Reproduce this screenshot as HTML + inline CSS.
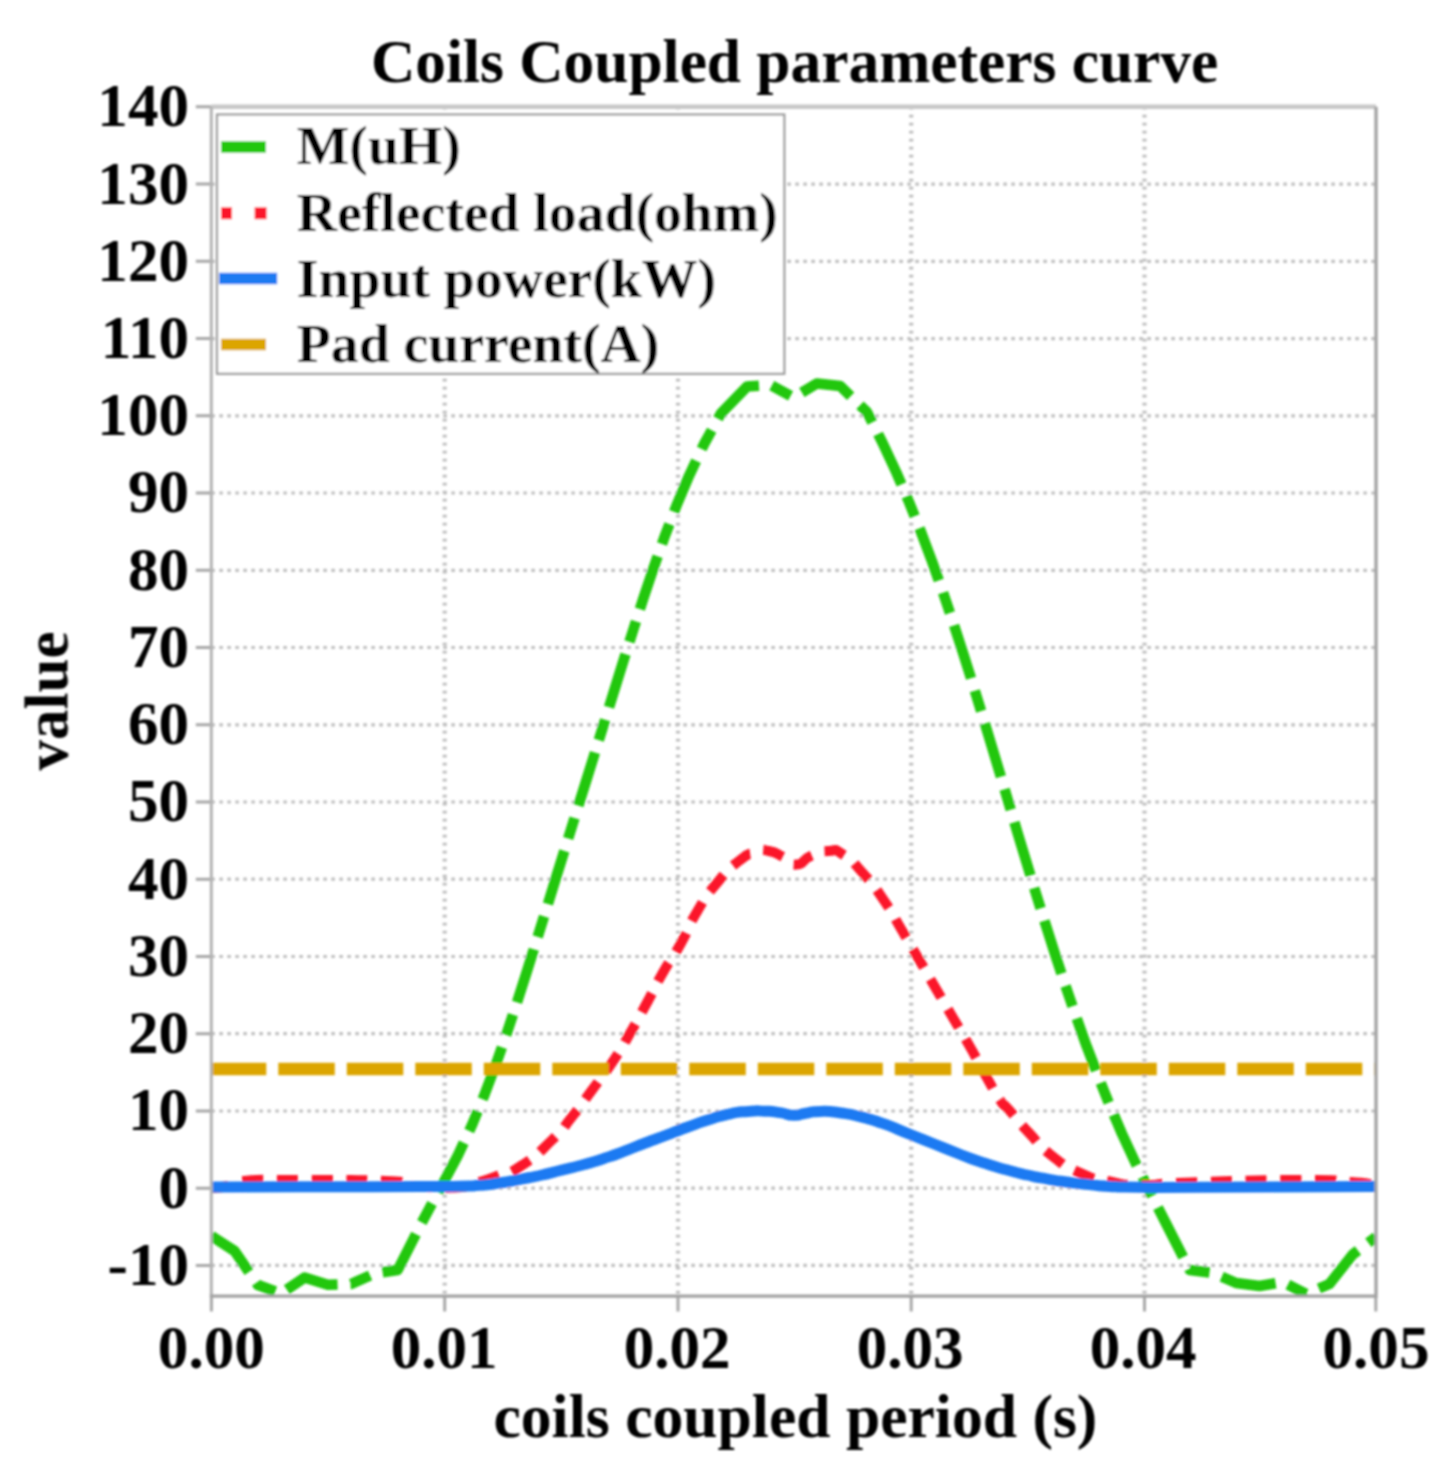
<!DOCTYPE html>
<html><head><meta charset="utf-8"><title>Coils Coupled parameters curve</title>
<style>html,body{margin:0;padding:0;background:#fff}svg{display:block}text{font-family:'Liberation Serif','Times New Roman',serif;font-weight:bold;fill:#000}</style></head><body>
<svg width="1453" height="1477" viewBox="0 0 1453 1477">
<defs><filter id="b" x="-2%" y="-2%" width="104%" height="104%"><feGaussianBlur stdDeviation="1.0"/></filter>
<clipPath id="c"><rect x="211.3" y="106.8" width="1164.7" height="1189.8"/></clipPath></defs>
<rect width="1453" height="1477" fill="#fff"/>
<g filter="url(#b)">
<path d="M444.7 106.8V1296.6M678.0 106.8V1296.6M911.2 106.8V1296.6M1144.5 106.8V1296.6" stroke="#bdbdbd" stroke-width="4.2" stroke-dasharray="2.8 5.2" fill="none"/>
<path d="M211.3 1265.4H1376.0M211.3 1188.2H1376.0M211.3 1111.0H1376.0M211.3 1033.7H1376.0M211.3 956.5H1376.0M211.3 879.2H1376.0M211.3 802.0H1376.0M211.3 724.8H1376.0M211.3 647.5H1376.0M211.3 570.3H1376.0M211.3 493.0H1376.0M211.3 415.8H1376.0M211.3 338.6H1376.0M211.3 261.3H1376.0M211.3 184.1H1376.0" stroke="#bfbfbf" stroke-width="3.2" stroke-dasharray="3.6 4.4" fill="none"/>
<path d="M195.8 1265.4H211.3M195.8 1188.2H211.3M195.8 1111.0H211.3M195.8 1033.7H211.3M195.8 956.5H211.3M195.8 879.2H211.3M195.8 802.0H211.3M195.8 724.8H211.3M195.8 647.5H211.3M195.8 570.3H211.3M195.8 493.0H211.3M195.8 415.8H211.3M195.8 338.6H211.3M195.8 261.3H211.3M195.8 184.1H211.3M195.8 106.8H211.3M211.4 1296.6V1311.6M444.7 1296.6V1311.6M678.0 1296.6V1311.6M911.2 1296.6V1311.6M1144.5 1296.6V1311.6M1375.8 1296.6V1311.6" stroke="#a8a8a8" stroke-width="3" fill="none"/>
<g clip-path="url(#c)" fill="none">
<polyline points="211.3,1236.0 234.6,1251.0 257.9,1285.0 281.2,1293.5 304.5,1277.6 327.8,1284.8 351.1,1284.0 374.4,1273.5 397.7,1270.0 421.0,1224.0 441.2,1186.7 457.7,1155.8 472.1,1124.8 484.8,1093.9 496.4,1063.0 507.2,1032.1 517.4,1001.1 527.3,970.2 536.9,939.3 546.6,908.3 556.1,877.4 565.7,846.5 575.3,815.6 585.0,784.6 594.6,753.7 604.2,722.8 613.8,691.9 623.4,660.9 633.2,630.0 643.1,599.1 653.5,568.1 664.4,537.2 676.2,506.3 689.2,475.4 703.9,444.4 720.9,413.5 747.1,386.5 770.4,385.0 793.6,397.5 816.9,383.5 840.2,386.0 867.0,412.0 882.2,442.1 896.2,472.1 909.1,502.2 921.1,532.3 932.4,562.3 943.0,592.4 953.2,622.5 962.9,652.5 972.4,682.6 981.6,712.7 990.7,742.7 999.7,772.8 1008.7,802.9 1017.6,832.9 1026.7,863.0 1035.8,893.0 1045.2,923.1 1054.7,953.2 1064.6,983.2 1074.9,1013.3 1085.6,1043.4 1097.0,1073.4 1109.0,1103.5 1121.9,1133.6 1135.8,1163.6 1150.8,1193.7 1166.3,1224.0 1189.6,1270.0 1212.9,1273.0 1236.2,1283.0 1259.5,1286.0 1282.8,1282.0 1306.1,1294.0 1329.4,1284.0 1352.7,1254.5 1376.0,1237.0" stroke="#20c70e" stroke-width="10.5" stroke-dasharray="55.6 13 21.4 13" stroke-dashoffset="2.5" stroke-linejoin="round"/>
<path d="M211.3 1188.0C216.9 1187.3 217.4 1188.3 228.0 1186.0C238.6 1183.7 219.0 1183.0 243.0 1181.0C267.0 1179.0 252.7 1180.0 300.0 1180.0C347.3 1180.0 350.0 1179.5 385.0 1181.0C420.0 1182.5 391.7 1182.5 405.0 1184.5C418.3 1186.5 406.0 1186.2 425.0 1187.0C444.0 1187.8 444.3 1188.5 462.0 1187.0C479.7 1185.5 466.0 1186.3 478.0 1182.5C490.0 1178.7 483.4 1181.3 497.9 1175.6C512.4 1169.9 503.6 1177.4 521.6 1165.5C539.6 1153.6 535.1 1156.4 552.0 1140.0C568.9 1123.6 558.8 1133.3 572.3 1116.4C585.8 1099.5 578.5 1108.5 592.6 1089.3C606.7 1070.1 602.3 1077.4 614.7 1058.8C627.1 1040.2 619.2 1052.0 629.9 1033.4C640.6 1014.8 636.1 1022.7 646.8 1003.0C657.5 983.3 650.7 994.0 662.0 974.2C673.3 954.4 669.0 964.5 680.7 943.7C692.4 922.9 685.0 931.9 697.0 911.7C709.0 891.5 702.8 900.1 716.8 883.2C730.8 866.3 725.9 871.2 739.1 860.9C752.3 850.6 746.6 855.5 756.5 852.2C766.4 848.9 759.7 849.3 768.8 851.0C777.9 852.7 774.6 852.7 783.7 857.2C792.8 861.7 787.0 865.0 796.1 864.6C805.2 864.2 800.3 860.4 811.0 855.9C821.7 851.4 817.6 851.4 828.3 851.0C839.0 850.6 831.6 847.3 843.2 854.7C854.8 862.1 849.4 858.0 863.0 873.3C876.6 888.6 870.8 881.1 884.0 900.5C897.2 919.9 890.6 911.3 902.6 931.5C914.6 951.7 908.4 941.4 920.0 961.2C931.6 981.0 925.7 971.2 937.3 991.0C948.9 1010.8 943.1 1000.9 954.7 1020.7C966.3 1040.5 961.3 1031.4 972.0 1050.4C982.7 1069.4 977.6 1061.2 986.9 1077.7C996.2 1094.2 992.7 1089.3 1000.0 1100.0C1007.3 1110.7 999.2 1098.8 1008.9 1109.8C1018.6 1120.8 1014.6 1117.6 1029.1 1133.0C1043.6 1148.4 1034.9 1142.6 1052.3 1156.1C1069.7 1169.6 1062.0 1164.9 1081.2 1173.4C1100.4 1181.9 1089.8 1177.6 1110.0 1181.5C1130.2 1185.4 1114.9 1184.7 1141.9 1185.0C1168.9 1185.3 1139.0 1184.2 1191.0 1182.5C1243.0 1180.8 1245.0 1180.2 1298.0 1180.0C1351.0 1179.8 1324.0 1180.3 1350.0 1182.0C1376.0 1183.7 1367.3 1184.0 1376.0 1185.0" stroke="#fb1629" stroke-width="10" stroke-dasharray="21 13.7"/>
<path d="M211.3 1069H1376.0" stroke="#dca500" stroke-width="12.5" stroke-dasharray="56.5 12" stroke-dashoffset="1.5"/>
<path d="M211.3 1187.0C240.9 1186.9 230.4 1186.9 300.0 1186.8C369.6 1186.7 366.7 1186.8 420.0 1186.6C473.3 1186.4 440.0 1186.6 460.0 1186.2C480.0 1185.8 466.5 1186.4 480.0 1185.3C493.5 1184.2 486.8 1184.9 500.6 1182.8C514.4 1180.7 507.5 1181.7 521.3 1179.1C535.1 1176.5 528.1 1178.1 541.9 1175.0C555.7 1171.9 548.8 1173.2 562.6 1169.8C576.4 1166.4 569.4 1168.5 583.2 1164.7C597.0 1160.9 590.1 1163.0 603.9 1158.5C617.7 1154.0 610.7 1156.4 624.5 1151.2C638.3 1146.0 631.4 1148.3 645.2 1143.0C659.0 1137.7 652.0 1140.5 665.8 1135.3C679.6 1130.1 672.7 1132.5 686.5 1127.5C700.3 1122.5 693.3 1124.7 707.1 1120.3C720.9 1115.9 714.0 1117.3 727.8 1114.3C741.6 1111.3 736.0 1112.4 748.4 1111.4C760.8 1110.4 754.5 1110.8 765.0 1111.2C775.5 1111.6 770.3 1111.2 780.0 1112.6C789.7 1114.0 785.3 1115.1 794.0 1115.3C802.7 1115.5 797.1 1114.5 806.0 1113.2C814.9 1111.9 808.8 1111.5 820.6 1111.4C832.4 1111.3 827.5 1111.1 841.3 1113.0C855.1 1114.9 848.1 1113.7 861.9 1117.2C875.7 1120.7 868.8 1118.6 882.6 1123.4C896.4 1128.2 889.4 1126.1 903.2 1131.6C917.0 1137.1 910.1 1134.4 923.9 1139.9C937.7 1145.4 930.7 1142.6 944.5 1148.1C958.3 1153.6 951.4 1151.2 965.2 1156.4C979.0 1161.6 972.0 1159.1 985.8 1163.6C999.6 1168.1 992.7 1166.0 1006.5 1169.8C1020.3 1173.6 1013.3 1171.9 1027.1 1175.0C1040.9 1178.1 1034.0 1176.7 1047.8 1179.1C1061.6 1181.5 1054.6 1180.4 1068.4 1182.2C1082.2 1184.0 1075.2 1183.2 1089.1 1184.6C1103.0 1186.0 1093.0 1185.5 1110.0 1186.4C1127.0 1187.3 1110.0 1186.9 1140.0 1187.2C1170.0 1187.5 1121.3 1187.4 1200.0 1187.2C1278.7 1187.0 1317.3 1186.7 1376.0 1186.5" stroke="#1f7af2" stroke-width="11"/>
</g>
<path d="M211.3 106.8H1376.0" stroke="#c8c8c8" stroke-width="4.6" fill="none"/>
<path d="M211.3 106.8V1296.6" stroke="#b2b2b2" stroke-width="3" fill="none"/>
<path d="M209.8 1296.1999999999998H1376.0V106.8" stroke="#a2a2a2" stroke-width="3.3" fill="none"/>
<rect x="217" y="114.5" width="567.3" height="259.3" fill="#fff" stroke="#9a9a9a" stroke-width="2.2"/>
<path d="M221 147H266" stroke="#20c70e" stroke-width="11.5"/>
<path d="M221 213.3h11M254.6 213.3h12" stroke="#fb1629" stroke-width="12"/>
<path d="M219 278.4H277.2" stroke="#1f7af2" stroke-width="11.5"/>
<path d="M221 344.5H266" stroke="#dca500" stroke-width="11.5"/>
<text x="296.8" y="164.4" font-size="55.7">M(uH)</text>
<text x="296.8" y="230.5" font-size="55.7">Reflected load(ohm)</text>
<text x="296.8" y="296.6" font-size="55.7">Input power(kW)</text>
<text x="296.8" y="362.2" font-size="55.7">Pad current(A)</text>
<text x="794.6" y="82.2" font-size="61.4" text-anchor="middle">Coils Coupled parameters curve</text>
<text x="795.4" y="1436.6" font-size="61.6" text-anchor="middle">coils coupled period (s)</text>
<text transform="translate(67.4 701) rotate(-90)" font-size="61.1" text-anchor="middle">value</text>
<text x="189" y="1284.8" font-size="61.1" text-anchor="end">-10</text>
<text x="189" y="1207.6" font-size="61.1" text-anchor="end">0</text>
<text x="189" y="1130.4" font-size="61.1" text-anchor="end">10</text>
<text x="189" y="1053.1" font-size="61.1" text-anchor="end">20</text>
<text x="189" y="975.9" font-size="61.1" text-anchor="end">30</text>
<text x="189" y="898.6" font-size="61.1" text-anchor="end">40</text>
<text x="189" y="821.4" font-size="61.1" text-anchor="end">50</text>
<text x="189" y="744.2" font-size="61.1" text-anchor="end">60</text>
<text x="189" y="666.9" font-size="61.1" text-anchor="end">70</text>
<text x="189" y="589.7" font-size="61.1" text-anchor="end">80</text>
<text x="189" y="512.4" font-size="61.1" text-anchor="end">90</text>
<text x="189" y="435.2" font-size="61.1" text-anchor="end">100</text>
<text x="189" y="358.0" font-size="61.1" text-anchor="end">110</text>
<text x="189" y="280.7" font-size="61.1" text-anchor="end">120</text>
<text x="189" y="203.5" font-size="61.1" text-anchor="end">130</text>
<text x="189" y="126.2" font-size="61.1" text-anchor="end">140</text>
<text x="211.3" y="1367.5" font-size="61.1" text-anchor="middle">0.00</text>
<text x="444.2" y="1367.5" font-size="61.1" text-anchor="middle">0.01</text>
<text x="677.2" y="1367.5" font-size="61.1" text-anchor="middle">0.02</text>
<text x="910.1" y="1367.5" font-size="61.1" text-anchor="middle">0.03</text>
<text x="1143.1" y="1367.5" font-size="61.1" text-anchor="middle">0.04</text>
<text x="1376.0" y="1367.5" font-size="61.1" text-anchor="middle">0.05</text>
</g></svg></body></html>
